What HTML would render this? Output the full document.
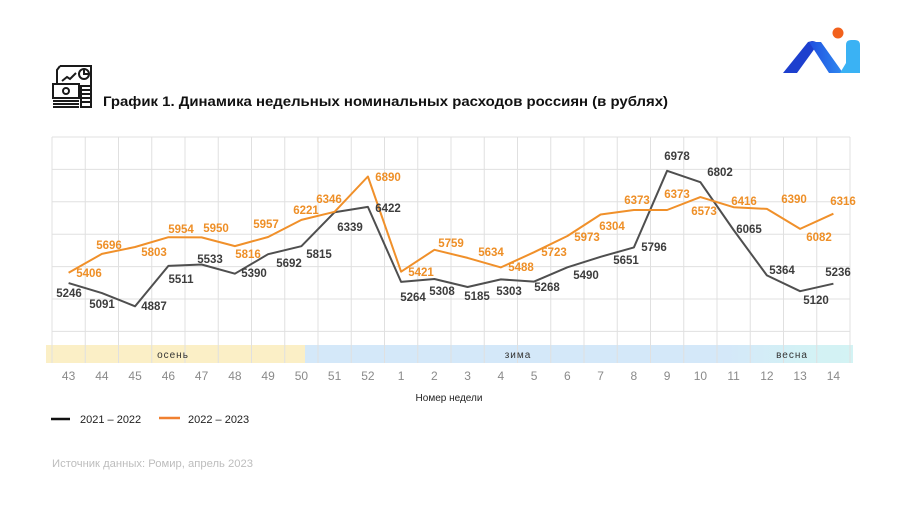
<!DOCTYPE html>
<html><head><meta charset="utf-8"><style>
html,body{margin:0;padding:0;background:#fff;}
svg{display:block;}
text{font-family:"Liberation Sans",Arial,sans-serif;}
</style></head><body>
<svg width="900" height="506" viewBox="0 0 900 506" xmlns="http://www.w3.org/2000/svg">
<defs>
<linearGradient id="bandg" x1="0" x2="1" y1="0" y2="0">
<stop offset="0" stop-color="#d4e8f9"/><stop offset="0.77" stop-color="#d4e8f9"/><stop offset="0.9" stop-color="#d3f1f5"/><stop offset="1" stop-color="#d3f3f4"/>
</linearGradient>
<linearGradient id="midg" x1="0" x2="1" y1="0" y2="0">
<stop offset="0" stop-color="#1f4fe0"/><stop offset="1" stop-color="#2f8af0"/>
</linearGradient>
</defs>
<rect width="900" height="506" fill="#fff"/>

<!-- logo -->
<circle cx="838" cy="33" r="5.5" fill="#f2611c"/>
<path d="M783,73 L797,73 L818,44 Q816,41 812,41 L808,42 Z" fill="#1d3fce"/>
<polygon points="809,42 821,42 843,73 829,73" fill="url(#midg)"/>
<path d="M846,45 Q846,40 851,40 L855,40 Q860,40 860,45 L860,73 L840,73 L846,63 Z" fill="#3ab2f4"/>

<!-- icon -->
<g fill="none" stroke="#1a1a1a" stroke-width="2">
<path d="M60,66 L91,66 L91,86 M60,66 L57,70 L57,84"/>
<polyline points="62,81 67,77 70,79 76,73"/>
<circle cx="84" cy="74" r="5"/>
<path d="M84,69 L84,74 L89,74"/>
<rect x="53" y="84" width="26" height="14"/>
<circle cx="66" cy="91" r="3"/>
<path d="M53,101 L79,101 M53,104 L79,104 M53,107 L79,107"/>
<path d="M81,86 L91,86 L91,107 L81,107 Z M81,90 L91,90 M81,94 L91,94 M81,98 L91,98 M81,102 L91,102"/>
</g>

<!-- title -->
<text x="103" y="106" font-size="14" font-weight="bold" fill="#111" textLength="565" lengthAdjust="spacingAndGlyphs">График 1. Динамика недельных номинальных расходов россиян (в рублях)</text>

<!-- band -->
<rect x="46" y="345" width="259" height="18" fill="#fbefc6"/>
<rect x="305" y="345" width="548" height="18" fill="url(#bandg)"/>

<!-- grid -->
<g stroke="#e0e0e0" stroke-width="1">
<line x1="52" y1="137" x2="850" y2="137"/>
<line x1="52" y1="169.4" x2="850" y2="169.4"/>
<line x1="52" y1="201.8" x2="850" y2="201.8"/>
<line x1="52" y1="234.2" x2="850" y2="234.2"/>
<line x1="52" y1="266.6" x2="850" y2="266.6"/>
<line x1="52" y1="299" x2="850" y2="299"/>
<line x1="52" y1="331.4" x2="850" y2="331.4"/>
<line x1="52" y1="137" x2="52" y2="363"/>
<line x1="85.25" y1="137" x2="85.25" y2="363"/>
<line x1="118.5" y1="137" x2="118.5" y2="363"/>
<line x1="151.75" y1="137" x2="151.75" y2="363"/>
<line x1="185" y1="137" x2="185" y2="363"/>
<line x1="218.25" y1="137" x2="218.25" y2="363"/>
<line x1="251.5" y1="137" x2="251.5" y2="363"/>
<line x1="284.75" y1="137" x2="284.75" y2="363"/>
<line x1="318" y1="137" x2="318" y2="363"/>
<line x1="351.25" y1="137" x2="351.25" y2="363"/>
<line x1="384.5" y1="137" x2="384.5" y2="363"/>
<line x1="417.75" y1="137" x2="417.75" y2="363"/>
<line x1="451" y1="137" x2="451" y2="363"/>
<line x1="484.25" y1="137" x2="484.25" y2="363"/>
<line x1="517.5" y1="137" x2="517.5" y2="363"/>
<line x1="550.75" y1="137" x2="550.75" y2="363"/>
<line x1="584" y1="137" x2="584" y2="363"/>
<line x1="617.25" y1="137" x2="617.25" y2="363"/>
<line x1="650.5" y1="137" x2="650.5" y2="363"/>
<line x1="683.75" y1="137" x2="683.75" y2="363"/>
<line x1="717" y1="137" x2="717" y2="363"/>
<line x1="750.25" y1="137" x2="750.25" y2="363"/>
<line x1="783.5" y1="137" x2="783.5" y2="363"/>
<line x1="816.75" y1="137" x2="816.75" y2="363"/>
<line x1="850" y1="137" x2="850" y2="363"/>
</g>

<!-- band labels -->
<g font-size="10" fill="#333" text-anchor="middle" letter-spacing="1">
<text x="173" y="358">осень</text>
<text x="518" y="358">зима</text>
<text x="792" y="358">весна</text>
</g>

<!-- series -->
<polyline fill="none" stroke="#4f4f4f" stroke-width="2" stroke-linejoin="round" points="68.6,283.1 101.9,293.1 135.1,306.3 168.4,265.9 201.6,264.5 234.9,273.7 268.1,254.2 301.4,246.2 334.6,212.2 367.9,206.9 401.1,281.9 434.4,279.0 467.6,287.0 500.9,279.4 534.1,281.6 567.4,267.3 600.6,256.8 633.9,247.4 667.1,170.8 700.4,182.2 733.6,230.0 766.9,275.4 800.1,291.2 833.4,283.7"/>
<polyline fill="none" stroke="#f0902a" stroke-width="2" stroke-linejoin="round" points="68.6,272.7 101.9,253.9 135.1,247.0 168.4,237.2 201.6,237.4 234.9,246.1 268.1,237.0 301.4,219.9 334.6,211.8 367.9,176.5 401.1,271.7 434.4,249.8 467.6,257.9 500.9,267.4 534.1,252.2 567.4,236.0 600.6,214.5 633.9,210.0 667.1,210.0 700.4,197.1 733.6,207.2 766.9,208.9 800.1,228.9 833.4,213.7"/>

<!-- black labels -->
<g font-size="11.5" font-weight="bold" fill="#3d3d3d" text-anchor="middle">
<text x="69" y="297">5246</text>
<text x="102" y="308">5091</text>
<text x="154" y="310">4887</text>
<text x="181" y="283">5511</text>
<text x="210" y="263">5533</text>
<text x="254" y="277">5390</text>
<text x="289" y="267">5692</text>
<text x="319" y="258">5815</text>
<text x="350" y="231">6339</text>
<text x="388" y="212">6422</text>
<text x="413" y="301">5264</text>
<text x="442" y="295">5308</text>
<text x="477" y="300">5185</text>
<text x="509" y="295">5303</text>
<text x="547" y="291">5268</text>
<text x="586" y="279">5490</text>
<text x="626" y="264">5651</text>
<text x="654" y="251">5796</text>
<text x="677" y="160">6978</text>
<text x="720" y="176">6802</text>
<text x="749" y="233">6065</text>
<text x="782" y="274">5364</text>
<text x="816" y="304">5120</text>
<text x="838" y="276">5236</text>
</g>

<!-- orange labels -->
<g font-size="11.5" font-weight="bold" fill="#ee8f27" text-anchor="middle">
<text x="89" y="277">5406</text>
<text x="109" y="249">5696</text>
<text x="154" y="256">5803</text>
<text x="181" y="233">5954</text>
<text x="216" y="232">5950</text>
<text x="248" y="258">5816</text>
<text x="266" y="228">5957</text>
<text x="306" y="214">6221</text>
<text x="329" y="203">6346</text>
<text x="388" y="181">6890</text>
<text x="421" y="276">5421</text>
<text x="451" y="247">5759</text>
<text x="491" y="256">5634</text>
<text x="521" y="271">5488</text>
<text x="554" y="256">5723</text>
<text x="587" y="241">5973</text>
<text x="612" y="230">6304</text>
<text x="637" y="204">6373</text>
<text x="677" y="198">6373</text>
<text x="704" y="215">6573</text>
<text x="744" y="205">6416</text>
<text x="794" y="203">6390</text>
<text x="819" y="241">6082</text>
<text x="843" y="205">6316</text>
</g>

<!-- week labels -->
<g font-size="12" fill="#8a8a8a" text-anchor="middle">
<text x="68.6" y="380">43</text>
<text x="101.9" y="380">44</text>
<text x="135.1" y="380">45</text>
<text x="168.4" y="380">46</text>
<text x="201.6" y="380">47</text>
<text x="234.9" y="380">48</text>
<text x="268.1" y="380">49</text>
<text x="301.4" y="380">50</text>
<text x="334.6" y="380">51</text>
<text x="367.9" y="380">52</text>
<text x="401.1" y="380">1</text>
<text x="434.4" y="380">2</text>
<text x="467.6" y="380">3</text>
<text x="500.9" y="380">4</text>
<text x="534.1" y="380">5</text>
<text x="567.4" y="380">6</text>
<text x="600.6" y="380">7</text>
<text x="633.9" y="380">8</text>
<text x="667.1" y="380">9</text>
<text x="700.4" y="380">10</text>
<text x="733.6" y="380">11</text>
<text x="766.9" y="380">12</text>
<text x="800.1" y="380">13</text>
<text x="833.4" y="380">14</text>
</g>

<text x="449" y="401" font-size="10" fill="#222" text-anchor="middle">Номер недели</text>

<!-- legend -->
<line x1="51" y1="419" x2="70" y2="419" stroke="#111" stroke-width="2.5"/>
<text x="80" y="423" font-size="11" fill="#222">2021 – 2022</text>
<line x1="159" y1="418" x2="180" y2="418" stroke="#f08030" stroke-width="2.5"/>
<text x="188" y="423" font-size="11" fill="#222">2022 – 2023</text>

<!-- source -->
<text x="52" y="467" font-size="11" fill="#bdbdbd" textLength="201" lengthAdjust="spacingAndGlyphs">Источник данных: Ромир, апрель 2023</text>
</svg>
</body></html>
